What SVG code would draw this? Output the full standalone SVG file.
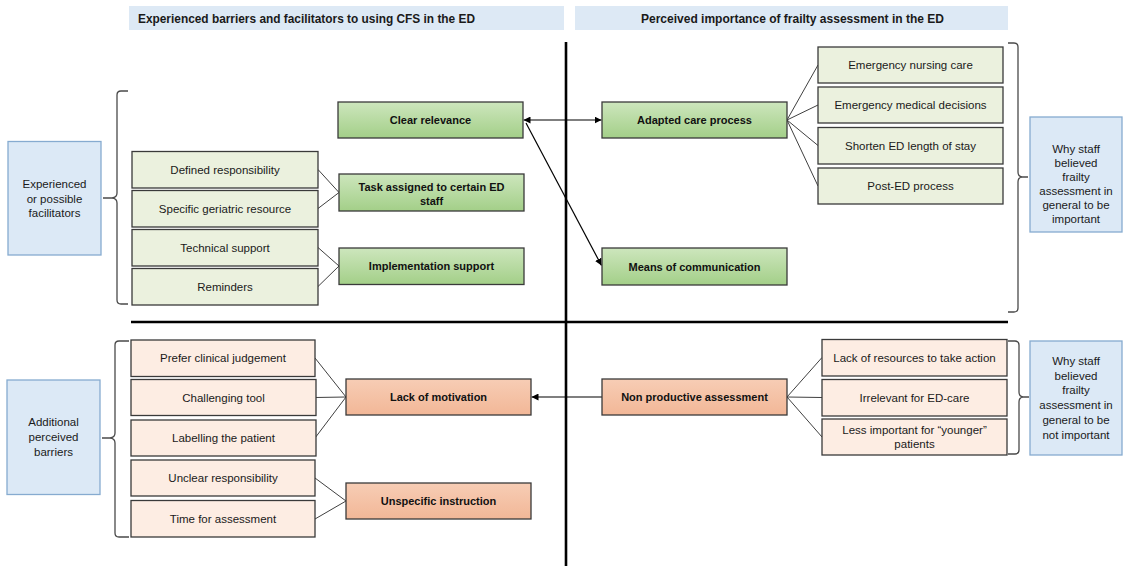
<svg xmlns="http://www.w3.org/2000/svg" width="1128" height="566" viewBox="0 0 1128 566">
<defs>
<linearGradient id="gP" x1="0" y1="0" x2="0" y2="1"><stop offset="0" stop-color="#cde6bd"/><stop offset="1" stop-color="#a3cf88"/></linearGradient>
<linearGradient id="oP" x1="0" y1="0" x2="0" y2="1"><stop offset="0" stop-color="#f7cdb5"/><stop offset="1" stop-color="#f2b797"/></linearGradient>
<marker id="ah" viewBox="0 0 10 10" refX="10" refY="5" markerWidth="7" markerHeight="7" orient="auto-start-reverse" markerUnits="userSpaceOnUse"><path d="M0,0 L10,5 L0,10 z" fill="#000"/></marker>
<style>
.hdr{fill:#dde9f5}
.ht{font-family:"Liberation Sans",Arial,sans-serif;font-weight:bold;font-size:12px;fill:#1a1a1a}
.gc{fill:#ebf1de;stroke:#3a3a3a;stroke-width:1.3}
.gp{fill:url(#gP);stroke:#3a3a3a;stroke-width:1.3}
.oc{fill:#fdede3;stroke:#3a3a3a;stroke-width:1.3}
.op{fill:url(#oP);stroke:#3a3a3a;stroke-width:1.3}
.sb{fill:#dce9f6;stroke:#86abd0;stroke-width:1.3}
.t{font-family:"Liberation Sans",Arial,sans-serif;font-size:11.5px;fill:#1a1a1a;text-anchor:middle}
.b{font-family:"Liberation Sans",Arial,sans-serif;font-size:11px;font-weight:bold;fill:#111;text-anchor:middle}
.ln{stroke:#404040;stroke-width:1;fill:none}
.ar{stroke:#000;stroke-width:1.2;fill:none}
.br{stroke:#4a4a4a;stroke-width:1.3;fill:none}
.ax{stroke:#000;stroke-width:2.6;fill:none}
</style>
</defs>
<rect width="1128" height="566" fill="#fff"/>

<g id="header-left"><rect class="hdr" x="129" y="6" width="435" height="24"/><text class="ht" x="138" y="22.5" textLength="337" lengthAdjust="spacingAndGlyphs">Experienced barriers and facilitators to using CFS in the ED</text></g>
<g id="header-right"><rect class="hdr" x="575" y="6" width="433" height="24"/><text class="ht" x="641" y="22.5" textLength="303" lengthAdjust="spacingAndGlyphs">Perceived importance of frailty assessment in the ED</text></g>

<g id="axes">
<line class="ax" x1="566" y1="42" x2="566" y2="566"/>
<line class="ax" x1="131" y1="322" x2="1008" y2="322"/>
</g>

<g id="braces">
<path class="br" d="M128,91 L121,91 Q117,91 117,95 L117,193 Q117,197.5 112,197.8 L103,198 L112,198.2 Q117,198.5 117,203 L117,300 Q117,304 121,304 L128,304"/>
<path class="br" d="M129,341 L119,341 Q115,341 115,345 L115,433 Q115,437.5 110,437.8 L102,438 L110,438.2 Q115,438.5 115,443 L115,533 Q115,537 119,537 L129,537"/>
<path class="br" d="M1008,43 L1014,43 Q1018,43 1018,47 L1018,172 Q1018,176.5 1022,176.8 L1028,177 L1022,177.2 Q1018,177.5 1018,182 L1018,308 Q1018,312 1014,312 L1008,312"/>
<path class="br" d="M1008,341 L1015,341 Q1019,341 1019,345 L1019,392 Q1019,396.5 1023,396.8 L1029,397 L1023,397.2 Q1019,397.5 1019,402 L1019,450 Q1019,454 1015,454 L1008,454"/>
</g>

<g id="connectors">
<line class="ln" x1="318" y1="169.5" x2="339" y2="192.5"/>
<line class="ln" x1="318" y1="208.5" x2="339" y2="192.5"/>
<line class="ln" x1="318" y1="247.5" x2="339" y2="266"/>
<line class="ln" x1="318" y1="286.5" x2="339" y2="266"/>
<line class="ln" x1="787" y1="120" x2="818" y2="65"/>
<line class="ln" x1="787" y1="120" x2="818" y2="105"/>
<line class="ln" x1="787" y1="120" x2="818" y2="145.5"/>
<line class="ln" x1="787" y1="120" x2="818" y2="186"/>
<line class="ln" x1="315" y1="358" x2="346" y2="397"/>
<line class="ln" x1="315" y1="397.5" x2="346" y2="397"/>
<line class="ln" x1="315" y1="438" x2="346" y2="397"/>
<line class="ln" x1="315" y1="478" x2="346" y2="501"/>
<line class="ln" x1="315" y1="519" x2="346" y2="501"/>
<line class="ln" x1="787" y1="397" x2="822" y2="357.5"/>
<line class="ln" x1="787" y1="397" x2="822" y2="397.5"/>
<line class="ln" x1="787" y1="397" x2="822" y2="437"/>
<line class="ar" x1="523.5" y1="120" x2="601.5" y2="120" marker-start="url(#ah)" marker-end="url(#ah)"/>
<line class="ar" x1="526" y1="123" x2="601.5" y2="265.5" marker-end="url(#ah)"/>
<line class="ar" x1="602" y1="397" x2="531.5" y2="397" marker-end="url(#ah)"/>
</g>

<g id="n-facilitators"><rect class="sb" x="8" y="141.5" width="93" height="113.5"/><text class="t" x="54.5" y="188">Experienced</text><text class="t" x="54.5" y="202.5">or possible</text><text class="t" x="54.5" y="217">facilitators</text></g>
<g id="n-barriers"><rect class="sb" x="7" y="380" width="93" height="114.5"/><text class="t" x="53.5" y="426">Additional</text><text class="t" x="53.5" y="441">perceived</text><text class="t" x="53.5" y="456">barriers</text></g>
<g id="n-why-important"><rect class="sb" x="1030" y="117" width="92" height="115"/><text class="t" x="1076" y="153">Why staff</text><text class="t" x="1076" y="167">believed</text><text class="t" x="1076" y="181">frailty</text><text class="t" x="1076" y="195">assessment in</text><text class="t" x="1076" y="209">general to be</text><text class="t" x="1076" y="223">important</text></g>
<g id="n-why-not"><rect class="sb" x="1030" y="341" width="92" height="114"/><text class="t" x="1076" y="365">Why staff</text><text class="t" x="1076" y="379.5">believed</text><text class="t" x="1076" y="394">frailty</text><text class="t" x="1076" y="409">assessment in</text><text class="t" x="1076" y="424">general to be</text><text class="t" x="1076" y="439">not important</text></g>

<g id="n-clear-relevance"><rect class="gp" x="338" y="102" width="185" height="36"/><text class="b" x="430.5" y="124">Clear relevance</text></g>
<g id="n-defined-responsibility"><rect class="gc" x="132" y="151.5" width="186" height="36.5"/><text class="t" x="225" y="173.5">Defined responsibility</text></g>
<g id="n-specific-geriatric"><rect class="gc" x="132" y="190.5" width="186" height="36.5"/><text class="t" x="225" y="212.5">Specific geriatric resource</text></g>
<g id="n-task-assigned"><rect class="gp" x="339" y="174" width="185" height="37"/><text class="b" x="431.5" y="190.5">Task assigned to certain ED</text><text class="b" x="431.5" y="205">staff</text></g>
<g id="n-technical-support"><rect class="gc" x="132" y="229.5" width="186" height="36.5"/><text class="t" x="225" y="251.5">Technical support</text></g>
<g id="n-reminders"><rect class="gc" x="132" y="268.5" width="186" height="36.5"/><text class="t" x="225" y="290.5">Reminders</text></g>
<g id="n-implementation-support"><rect class="gp" x="339" y="248" width="185" height="36.5"/><text class="b" x="431.5" y="270">Implementation support</text></g>

<g id="n-adapted-care"><rect class="gp" x="602" y="102" width="185" height="36"/><text class="b" x="694.5" y="124">Adapted care process</text></g>
<g id="n-means-communication"><rect class="gp" x="602" y="248" width="185" height="37"/><text class="b" x="694.5" y="270.5">Means of communication</text></g>
<g id="n-emergency-nursing"><rect class="gc" x="818" y="47" width="185" height="36"/><text class="t" x="910.5" y="69">Emergency nursing care</text></g>
<g id="n-emergency-medical"><rect class="gc" x="818" y="87" width="185" height="36"/><text class="t" x="910.5" y="109">Emergency medical decisions</text></g>
<g id="n-shorten-los"><rect class="gc" x="818" y="127.5" width="185" height="36.5"/><text class="t" x="910.5" y="150">Shorten ED length of stay</text></g>
<g id="n-post-ed"><rect class="gc" x="818" y="168" width="185" height="36"/><text class="t" x="910.5" y="190">Post-ED process</text></g>

<g id="n-prefer-clinical"><rect class="oc" x="131" y="340" width="184" height="36.5"/><text class="t" x="223" y="362">Prefer clinical judgement</text></g>
<g id="n-challenging-tool"><rect class="oc" x="131" y="379.5" width="185" height="36"/><text class="t" x="223.5" y="401.5">Challenging tool</text></g>
<g id="n-labelling"><rect class="oc" x="131" y="420" width="185" height="36"/><text class="t" x="223.5" y="442">Labelling the patient</text></g>
<g id="n-unclear-responsibility"><rect class="oc" x="131" y="460" width="184" height="36"/><text class="t" x="223" y="482">Unclear responsibility</text></g>
<g id="n-time-assessment"><rect class="oc" x="131" y="500.5" width="184" height="36.5"/><text class="t" x="223" y="523">Time for assessment</text></g>
<g id="n-lack-motivation"><rect class="op" x="346" y="379" width="185" height="36"/><text class="b" x="438.5" y="401">Lack of motivation</text></g>
<g id="n-unspecific-instruction"><rect class="op" x="346" y="483" width="185" height="36"/><text class="b" x="438.5" y="505">Unspecific instruction</text></g>

<g id="n-non-productive"><rect class="op" x="602" y="379" width="185" height="36"/><text class="b" x="694.5" y="401">Non productive assessment</text></g>
<g id="n-lack-resources"><rect class="oc" x="822" y="339.5" width="185" height="36.5"/><text class="t" x="914.5" y="361.5">Lack of resources to take action</text></g>
<g id="n-irrelevant"><rect class="oc" x="822" y="379.5" width="185" height="36.5"/><text class="t" x="914.5" y="401.5">Irrelevant for ED-care</text></g>
<g id="n-less-important"><rect class="oc" x="822" y="419" width="185" height="36"/><text class="t" x="914.5" y="434">Less important for “younger”</text><text class="t" x="914.5" y="448">patients</text></g>
</svg>
